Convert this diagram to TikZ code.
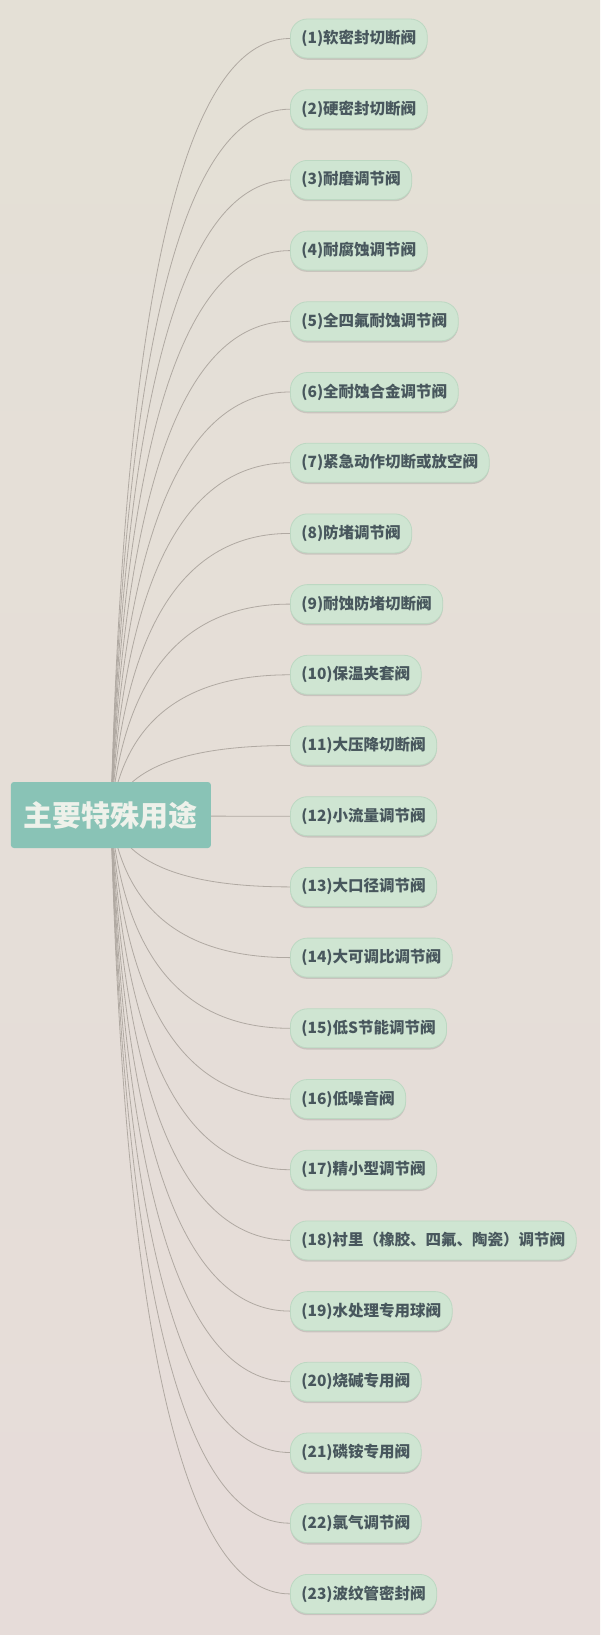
\documentclass[tikz,border=0pt]{standalone}
\usepackage{fontspec}
\setmainfont{Noto Sans CJK SC}
\usetikzlibrary{positioning, calc, shadows}

\definecolor{bgtop}{HTML}{E4E0D6}
\definecolor{bgbottom}{HTML}{E6DCD9}
\definecolor{rootteal}{HTML}{89C3B6}
\definecolor{rootwhite}{HTML}{EEF1EA}
\definecolor{itemgreen}{HTML}{CFE5D2}
\definecolor{itemedge}{HTML}{BCD8C2}
\definecolor{itemtext}{HTML}{48575D}
\definecolor{linegray}{HTML}{B0A9A2}

\pgfdeclarelayer{background}
\pgfdeclarelayer{edges}
\pgfsetlayers{background,edges,main}

\tikzset{
  rootbox/.style={rectangle, rounded corners=3pt, fill=rootteal, text=rootwhite,
    minimum width=200pt, minimum height=66pt, font=\bfseries\fontsize{29}{34}\selectfont},
  item/.style={rectangle, rounded corners=17pt, fill=itemgreen, draw=itemedge, line width=0.8pt,
    text=itemtext, minimum height=39pt, inner xsep=11pt, inner ysep=0pt, anchor=west,
    font=\bfseries\fontsize{15.5}{18}\selectfont,
    drop shadow={shadow xshift=0pt, shadow yshift=-1.8pt, opacity=0.22, fill=black!60}},
  branch/.style={draw=linegray, line width=0.8pt,
    to path={let \p1=(\tikztostart), \p2=(\tikztotarget) in
      .. controls ({\x1+13.3pt},{\y1+0.667*(\y2-\y1)}) and ({\x2-106.7pt},\y2) .. (\tikztotarget)}},
}

\begin{document}
\begin{tikzpicture}[x=1pt, y=-1pt]
    \useasboundingbox (0,0) rectangle (600,1635);
    \begin{pgfonlayer}{background}
      \shade[top color=bgtop, bottom color=bgbottom] (0,0) rectangle (600,1635);
    \end{pgfonlayer}

    \node[rootbox] (root) at (110.9, 815) {主要特殊用途};

    \node[item] (n1)  at (290, 38.5)   {(1)软密封切断阀};
    \node[item] (n2)  at (290, 109.2)  {(2)硬密封切断阀};
    \node[item] (n3)  at (290, 179.9)  {(3)耐磨调节阀};
    \node[item] (n4)  at (290, 250.6)  {(4)耐腐蚀调节阀};
    \node[item] (n5)  at (290, 321.3)  {(5)全四氟耐蚀调节阀};
    \node[item] (n6)  at (290, 392.0)  {(6)全耐蚀合金调节阀};
    \node[item] (n7)  at (290, 462.7)  {(7)紧急动作切断或放空阀};
    \node[item] (n8)  at (290, 533.4)  {(8)防堵调节阀};
    \node[item] (n9)  at (290, 604.1)  {(9)耐蚀防堵切断阀};
    \node[item] (n10) at (290, 674.8)  {(10)保温夹套阀};
    \node[item] (n11) at (290, 745.5)  {(11)大压降切断阀};
    \node[item] (n12) at (290, 816.2)  {(12)小流量调节阀};
    \node[item] (n13) at (290, 886.9)  {(13)大口径调节阀};
    \node[item] (n14) at (290, 957.6)  {(14)大可调比调节阀};
    \node[item] (n15) at (290, 1028.3) {(15)低S节能调节阀};
    \node[item] (n16) at (290, 1099.0) {(16)低噪音阀};
    \node[item] (n17) at (290, 1169.7) {(17)精小型调节阀};
    \node[item] (n18) at (290, 1240.4) {(18)衬里（橡胶、四氟、陶瓷）调节阀};
    \node[item] (n19) at (290, 1311.1) {(19)水处理专用球阀};
    \node[item] (n20) at (290, 1381.8) {(20)烧碱专用阀};
    \node[item] (n21) at (290, 1452.5) {(21)磷铵专用阀};
    \node[item] (n22) at (290, 1523.2) {(22)氯气调节阀};
    \node[item] (n23) at (290, 1593.9) {(23)波纹管密封阀};

    % branches run behind the root box
    \begin{pgfonlayer}{edges}
      \foreach \i in {1,...,23}
        \draw[branch] (root.center) to (n\i.west);
    \end{pgfonlayer}
\end{tikzpicture}
\end{document}
